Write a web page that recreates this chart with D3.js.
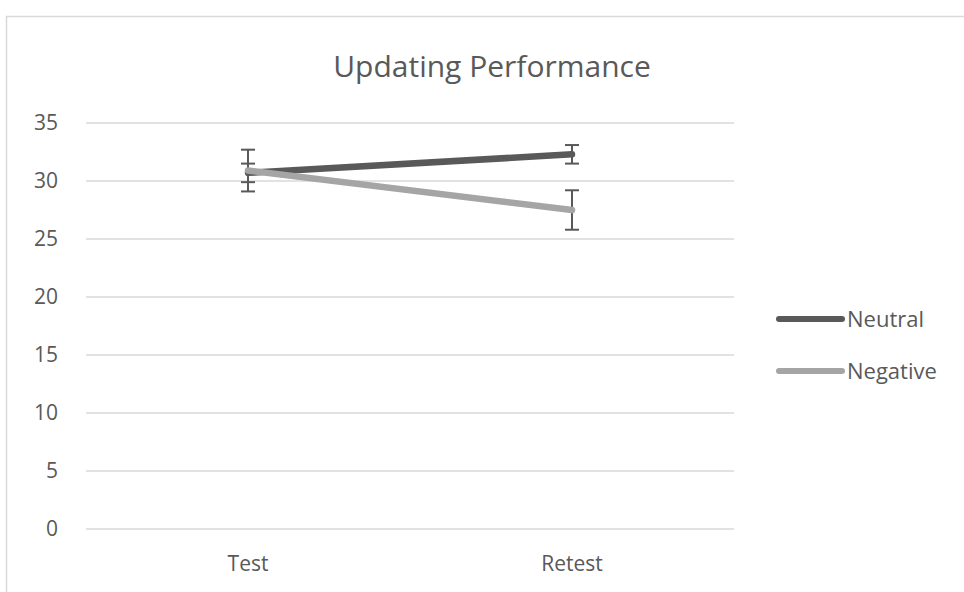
<!DOCTYPE html>
<html>
<head>
<meta charset="utf-8">
<script src="https://cdn.jsdelivr.net/npm/d3@7"></script>
<style>
  body { margin: 0; background: #fff; }
  svg text { font-family: "Open Sans", "Noto Sans", sans-serif; fill: #595959; }
</style>
</head>
<body>
<svg id="chart" width="964" height="592"></svg>
<script>
// data
var categories = ["Test", "Retest"];
var seriesNames = ["Neutral", "Negative"];
var neutralValues = [30.7, 32.3];
var negativeValues = [30.9, 27.5];
var neutralErr = [0.8, 0.8];
var negativeErr = [1.8, 1.7];
var yTicks = [0, 5, 10, 15, 20, 25, 30, 35];
var colors = ["#595959", "#a5a5a5"];

var series = [
  { name: seriesNames[0], values: neutralValues, err: neutralErr, color: colors[0] },
  { name: seriesNames[1], values: negativeValues, err: negativeErr, color: colors[1] }
];

var svg = d3.select("#chart");

// chart frame
svg.append("rect")
  .attr("x", 6.5).attr("y", 16.5)
  .attr("width", 1000).attr("height", 700)
  .attr("fill", "none")
  .attr("stroke", "#d9d9d9")
  .attr("stroke-width", 1.5);

var x = d3.scaleBand().domain(categories).range([86, 734]);
var y = d3.scaleLinear().domain([0, 35]).range([529, 123]);

// gridlines
svg.append("g")
  .selectAll("line")
  .data(yTicks)
  .enter().append("line")
  .attr("x1", 86).attr("x2", 734)
  .attr("y1", function(d) { return y(d); })
  .attr("y2", function(d) { return y(d); })
  .attr("stroke", "#d9d9d9")
  .attr("stroke-width", 1.5);

// y axis labels
var yAxis = svg.append("g")
  .attr("transform", "translate(58,0)")
  .call(d3.axisLeft(y).tickValues(yTicks).tickSize(0).tickPadding(0));
yAxis.select(".domain").remove();
yAxis.selectAll("text")
  .style("font-size", "21px")
  .attr("fill", "#595959");

// x axis labels
var xAxis = svg.append("g")
  .attr("transform", "translate(0,556)")
  .call(d3.axisBottom(x).tickSize(0).tickPadding(0));
xAxis.select(".domain").remove();
xAxis.selectAll("text")
  .style("font-size", "21px")
  .attr("fill", "#595959");

// title
svg.append("text")
  .attr("x", 492).attr("y", 77)
  .attr("text-anchor", "middle")
  .style("font-size", "30px")
  .text("Updating Performance");

function cx(i) { return x(categories[i]) + x.bandwidth() / 2; }

// error bars
series.forEach(function(s) {
  var g = svg.append("g").attr("stroke", "#595959").attr("stroke-width", 2);
  s.values.forEach(function(v, i) {
    var lo = y(v - s.err[i]), hi = y(v + s.err[i]);
    g.append("line").attr("x1", cx(i)).attr("x2", cx(i)).attr("y1", lo).attr("y2", hi);
    g.append("line").attr("x1", cx(i) - 7).attr("x2", cx(i) + 7).attr("y1", lo).attr("y2", lo);
    g.append("line").attr("x1", cx(i) - 7).attr("x2", cx(i) + 7).attr("y1", hi).attr("y2", hi);
  });
});

// lines
var line = d3.line()
  .x(function(d, i) { return cx(i); })
  .y(function(d) { return y(d); });

series.forEach(function(s) {
  svg.append("path")
    .datum(s.values)
    .attr("d", line)
    .attr("fill", "none")
    .attr("stroke", s.color)
    .attr("stroke-width", 6.5)
    .attr("stroke-linecap", "round");
});

// legend
var legend = svg.append("g")
  .selectAll("g")
  .data(series)
  .enter().append("g")
  .attr("transform", function(d, i) { return "translate(779," + (319 + i * 52) + ")"; });

legend.append("line")
  .attr("x1", 0).attr("x2", 63)
  .attr("stroke", function(d) { return d.color; })
  .attr("stroke-width", 6)
  .attr("stroke-linecap", "round");

legend.append("text")
  .attr("x", 68).attr("y", 8)
  .style("font-size", "22px")
  .text(function(d) { return d.name; });
</script>
</body>
</html>
